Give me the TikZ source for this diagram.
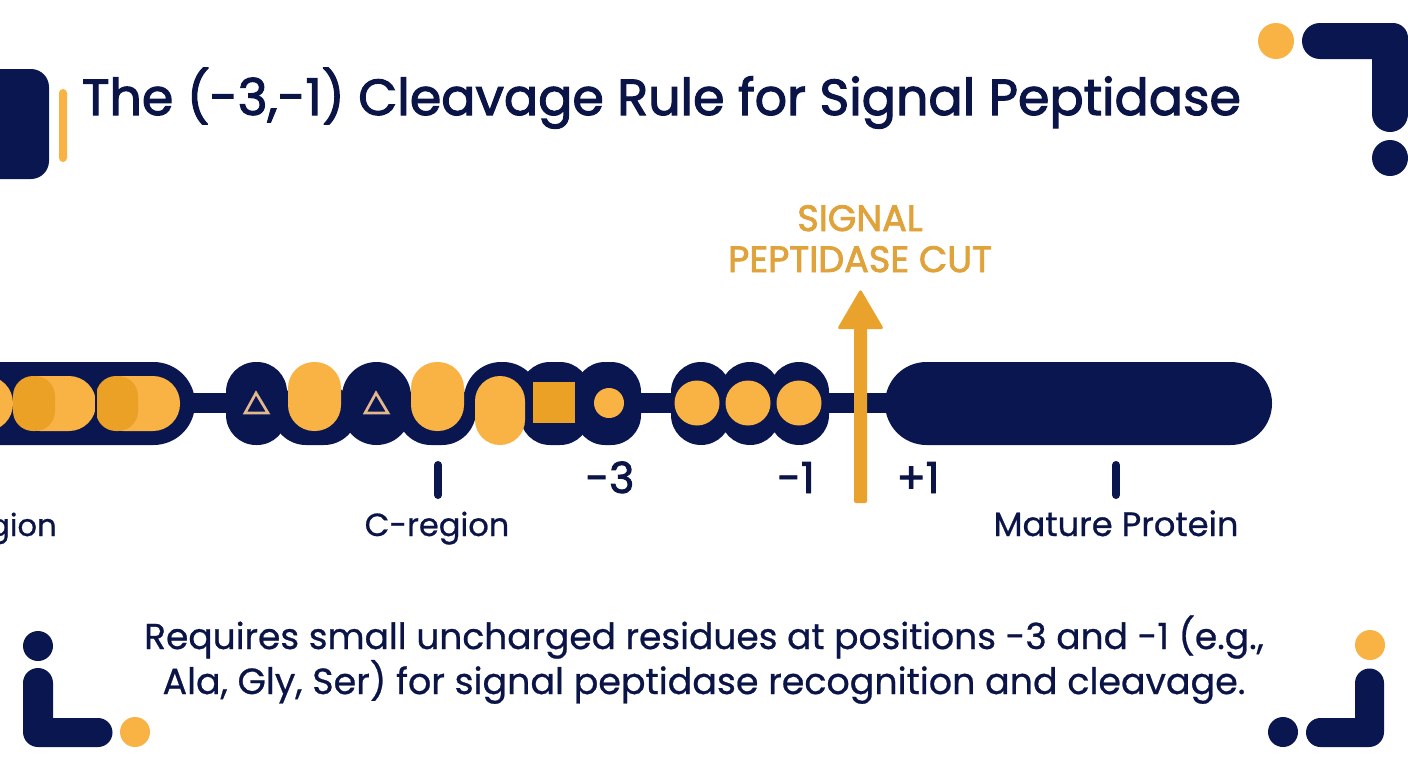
\documentclass[tikz,border=0pt]{standalone}
\usepackage{fontspec}
\setmainfont{Poppins}
\definecolor{navy}{HTML}{0A1650}
\definecolor{ink}{HTML}{0B1446}
\definecolor{amber}{HTML}{F9B244}
\definecolor{amberdark}{HTML}{EBA026}
\definecolor{shaft}{HTML}{E9A22B}
\definecolor{cuttext}{HTML}{E0A33C}
\definecolor{tan}{HTML}{E2B88C}
% rounded block: colour, radius (in drawing units), x0, y0, x1, y1
\newcommand{\blk}[6]{\fill[#1,rounded corners=#2*0.75pt] (#3,#4) rectangle (#5,#6);}
\newfontfamily\headfont[FakeBold=2.2]{Poppins}
\newfontfamily\cutfont[FakeBold=2.2]{Poppins}
\newfontfamily\bodyfont[FakeBold=0.7]{Poppins}
\tikzset{
  headtext/.style={text=ink,font=\headfont\fontsize{38}{46}\selectfont,inner sep=0,anchor=base},
  bodytext/.style={text=ink,font=\bodyfont\fontsize{27}{34}\selectfont,inner sep=0,anchor=base},
  labeltext/.style={text=ink,font=\bodyfont\fontsize{24}{30}\selectfont,inner sep=0,anchor=base},
  postext/.style={text=ink,font=\headfont\fontsize{32}{38}\selectfont,inner sep=0,anchor=base},
  cuttxt/.style={text=cuttext,font=\cutfont\fontsize{27.5}{33}\selectfont,inner sep=0,anchor=base},
  tickmark/.style={draw=navy,line width=6pt,line cap=round},
  trimark/.style={draw=tan,line width=2pt,line join=miter}
}
\begin{document}
\begin{tikzpicture}[x=0.75pt,y=-0.75pt]
\useasboundingbox (0,0) rectangle (1408,768);
\clip (0,0) rectangle (1408,768);

% corner ornaments
\blk{navy}{18}{-40}{69}{49}{179}
\blk{amber}{4}{59}{89}{67}{162}

\fill[amber] (1276,41) circle (18);
\fill[navy] (1320,23) -- (1393,23) arc[start angle=90,end angle=0,x radius=15,y radius=-15]
  -- (1408,114) arc[start angle=0,end angle=-180,x radius=18,y radius=-18]
  -- (1372,59) -- (1320,59) arc[start angle=270,end angle=90,x radius=18,y radius=-18] -- cycle;
\fill[navy] (1390,158) circle (18);

\fill[navy] (38,646) circle (15);
\fill[navy] (23,683) arc[start angle=180,end angle=0,x radius=15,y radius=-15]
  -- (53,718) -- (98,718) arc[start angle=90,end angle=-90,x radius=14.5,y radius=-14.5]
  -- (38,747) arc[start angle=270,end angle=180,x radius=15,y radius=-15] -- cycle;
\fill[amber] (135,732) circle (15);

\fill[amber] (1370,645) circle (15);
\fill[navy] (1355,683) arc[start angle=180,end angle=0,x radius=14.5,y radius=-14.5]
  -- (1384,732) arc[start angle=0,end angle=-90,x radius=15,y radius=-15]
  -- (1320.5,747) arc[start angle=270,end angle=90,x radius=14.5,y radius=-14.5]
  -- (1355,718) -- cycle;
\fill[navy] (1283,732) circle (15);

% backbone links
\fill[navy] (150,393) rectangle (240,413);
\fill[navy] (620,393) rectangle (690,413);
\fill[navy] (810,393) rectangle (920,413);

% dark silhouette of the chain
\blk{navy}{41.5}{-80}{362}{195}{445}
\blk{navy}{30}{226}{362}{287}{445}
\blk{navy}{34}{272}{385}{358}{445}
\blk{navy}{34.5}{342}{362}{411}{445}
\blk{navy}{34}{397}{385}{476}{445}
\blk{navy}{37}{464}{362}{540}{425}
\blk{navy}{30}{520}{362}{590}{445}
\blk{navy}{30}{575}{362}{641}{445}
\blk{navy}{30}{671}{362}{731}{445}
\blk{navy}{30}{720}{362}{780}{445}
\blk{navy}{30}{769}{362}{829}{445}
\blk{navy}{41.5}{885}{362}{1272}{445}

% residues of the hydrophobic stretch
\blk{amber}{27}{-60}{376}{13}{431}
\blk{amber}{27}{13}{376}{96}{431}
\blk{amberdark}{20}{13}{376}{55}{431}
\blk{amber}{27}{96}{376}{180}{431}
\blk{amberdark}{20}{96}{376}{138}{431}
\fill[navy] (94.5,376) rectangle (97,431);

% residues of the C-region
\draw[trimark] (256,393) -- (268,413) -- (245,413) -- cycle;
\blk{amber}{26}{288}{362}{341}{431}
\draw[trimark] (376,393) -- (388,413) -- (365,413) -- cycle;
\blk{amber}{26}{411}{362}{464}{431}
\blk{amber}{25}{475}{376}{525}{445}
\fill[amberdark] (533,382) rectangle (575,423);
\fill[amber] (609,403) circle (15);
\fill[amber] (697,403) circle (22.5);
\fill[amber] (748,403) circle (22.5);
\fill[amber] (799,403) circle (22.5);

% cut arrow
\fill[shaft,rounded corners=1.5pt] (854,326) rectangle (867,503);
\fill[shaft,rounded corners=2pt] (860.5,289) -- (884,329) -- (837,329) -- cycle;

% tick marks
\draw[tickmark] (438,465) -- (438,495);
\draw[tickmark] (1116,465) -- (1116,495);

% texts
\node[headtext] (heading) at (661.5,115) {The (-3,-1) Cleavage Rule for Signal Peptidase};
\node[cuttxt] (cut1) at (860,231) {SIGNAL};
\node[cuttxt] (cut2) at (860,272) {PEPTIDASE CUT};
\node[postext] (m3) at (610,493) {-3};
\node[postext] (m1) at (796,493) {-1};
\node[postext] (p1) at (918,493) {+1};
\node[labeltext,anchor=base east,font=\bodyfont\fontsize{23}{30}\selectfont] (nreg) at (57,536) {gion};
\node[labeltext] (creg) at (437,536) {C-region};
\node[labeltext,font=\bodyfont\fontsize{25.3}{30}\selectfont] (mature) at (1116,536) {Mature Protein};
\node[bodytext] (line1) at (704,649) {Requires small uncharged residues at positions -3 and -1 (e.g.,};
\node[bodytext,font=\bodyfont\fontsize{27.3}{34}\selectfont] (line2) at (704,694) {Ala, Gly, Ser) for signal peptidase recognition and cleavage.};
\end{tikzpicture}
\end{document}
